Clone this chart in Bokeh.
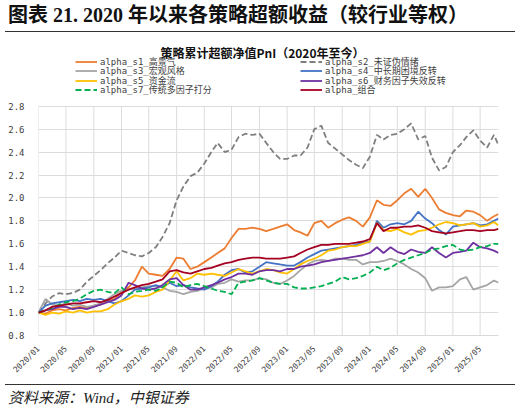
import pandas as pd
from math import pi

from bokeh.embed import file_html
from bokeh.layouts import column
from bokeh.models import (DatetimeTickFormatter, Div, FixedTicker, Label, Legend, LegendItem,
                          PrintfTickFormatter, Range1d)
from bokeh.plotting import figure
from bokeh.resources import INLINE

# month starts 2020/01 .. 2025/07, last point is the end of the series
dates = list(pd.date_range("2020-01-01", periods=67, freq="MS")) + [pd.Timestamp("2025-07-21")]
tick_dates = list(pd.date_range("2020-01-01", "2025-05-01", freq="4MS"))
y_ticks = [0.8, 1.0, 1.2, 1.4, 1.6, 1.8, 2.0, 2.2, 2.4, 2.6, 2.8]

s1 = [1.00, 0.99, 1.02, 1.03, 1.02, 1.04, 1.05, 1.04, 1.06, 1.07, 1.10, 1.12, 1.18, 1.22,
      1.28, 1.40, 1.34, 1.33, 1.32, 1.38, 1.48, 1.47, 1.38, 1.40, 1.44, 1.48, 1.52, 1.56,
      1.65, 1.73, 1.73, 1.74, 1.73, 1.71, 1.73, 1.75, 1.77, 1.72, 1.70, 1.67, 1.78, 1.80,
      1.74, 1.78, 1.81, 1.83, 1.80, 1.75, 1.83, 1.98, 1.94, 1.93, 1.98, 2.04, 2.08, 2.01,
      2.08, 2.00, 1.90, 1.87, 1.85, 1.84, 1.89, 1.88, 1.85, 1.80, 1.84, 1.86]
s2 = [1.00, 1.08, 1.14, 1.17, 1.16, 1.17, 1.20, 1.27, 1.32, 1.37, 1.43, 1.48, 1.54, 1.52,
      1.50, 1.49, 1.52, 1.57, 1.66, 1.78, 1.98, 2.10, 2.19, 2.22, 2.30, 2.40, 2.48, 2.40,
      2.42, 2.53, 2.56, 2.55, 2.56, 2.48, 2.40, 2.34, 2.34, 2.37, 2.37, 2.44, 2.60, 2.63,
      2.48, 2.43, 2.38, 2.33, 2.29, 2.26, 2.36, 2.55, 2.51, 2.55, 2.56, 2.60, 2.65, 2.51,
      2.54, 2.35, 2.24, 2.27, 2.40, 2.46, 2.53, 2.59, 2.50, 2.44, 2.55, 2.46]
s3 = [1.00, 1.12, 1.07, 1.06, 1.08, 1.06, 1.07, 1.05, 1.06, 1.08, 1.12, 1.16, 1.19, 1.20,
      1.21, 1.22, 1.23, 1.23, 1.22, 1.19, 1.18, 1.16, 1.18, 1.19, 1.21, 1.22, 1.25, 1.26,
      1.29, 1.27, 1.28, 1.28, 1.30, 1.29, 1.26, 1.25, 1.28, 1.32, 1.37, 1.42, 1.45, 1.46,
      1.45, 1.47, 1.47, 1.46, 1.46, 1.42, 1.44, 1.44, 1.45, 1.47, 1.45, 1.42, 1.38, 1.35,
      1.30, 1.19, 1.22, 1.22, 1.23, 1.29, 1.31, 1.20, 1.22, 1.24, 1.28, 1.26]
s4 = [1.00, 1.06, 1.08, 1.09, 1.10, 1.11, 1.10, 1.12, 1.11, 1.12, 1.10, 1.08, 1.10, 1.15,
      1.20, 1.21, 1.22, 1.24, 1.22, 1.26, 1.23, 1.24, 1.22, 1.21, 1.20, 1.23, 1.27, 1.33,
      1.37, 1.38, 1.35, 1.36, 1.40, 1.44, 1.43, 1.42, 1.41, 1.41, 1.44, 1.48, 1.51, 1.54,
      1.55, 1.56, 1.57, 1.58, 1.59, 1.61, 1.62, 1.80, 1.74, 1.77, 1.78, 1.77, 1.80, 1.88,
      1.82, 1.78, 1.72, 1.68, 1.75, 1.76, 1.77, 1.78, 1.76, 1.77, 1.80, 1.82]
s5 = [1.00, 0.98, 1.00, 0.99, 1.01, 1.00, 1.02, 1.00, 1.01, 1.01, 1.03, 1.07, 1.10, 1.12,
      1.15, 1.14, 1.15, 1.18, 1.20, 1.28, 1.36, 1.28, 1.30, 1.34, 1.33, 1.34, 1.33, 1.32,
      1.35, 1.38, 1.36, 1.34, 1.36, 1.38, 1.37, 1.35, 1.34, 1.38, 1.42, 1.45, 1.47, 1.50,
      1.54, 1.55, 1.57, 1.58, 1.58, 1.60, 1.62, 1.78, 1.72, 1.71, 1.73, 1.70, 1.68, 1.71,
      1.72, 1.74, 1.77, 1.79, 1.78, 1.76, 1.77, 1.78, 1.75, 1.76, 1.79, 1.76]
s6 = [1.00, 1.02, 1.03, 1.05, 1.05, 1.03, 1.04, 1.03, 1.05, 1.07, 1.09, 1.11, 1.15, 1.26,
      1.24, 1.21, 1.20, 1.21, 1.24, 1.29, 1.30, 1.24, 1.20, 1.20, 1.22, 1.24, 1.26, 1.29,
      1.31, 1.34, 1.34, 1.33, 1.36, 1.37, 1.37, 1.36, 1.38, 1.38, 1.40, 1.41, 1.42, 1.44,
      1.45, 1.46, 1.47, 1.48, 1.49, 1.50, 1.52, 1.57, 1.52, 1.57, 1.53, 1.51, 1.55, 1.53,
      1.52, 1.57, 1.52, 1.48, 1.52, 1.53, 1.54, 1.61, 1.57, 1.56, 1.54, 1.52]
s7 = [1.00, 1.02, 1.04, 1.07, 1.09, 1.10, 1.12, 1.16, 1.19, 1.20, 1.18, 1.17, 1.22, 1.16,
      1.18, 1.19, 1.20, 1.19, 1.22, 1.27, 1.26, 1.22, 1.24, 1.25, 1.23, 1.21, 1.19, 1.18,
      1.16, 1.26, 1.27, 1.28, 1.30, 1.28, 1.26, 1.25, 1.25, 1.22, 1.21, 1.21, 1.22, 1.23,
      1.25, 1.27, 1.31, 1.29, 1.30, 1.32, 1.35, 1.40, 1.37, 1.39, 1.43, 1.46, 1.48, 1.50,
      1.52, 1.55, 1.56, 1.58, 1.59, 1.55, 1.54, 1.55, 1.57, 1.58, 1.60, 1.60]
combo = [1.00, 1.02, 1.05, 1.06, 1.07, 1.08, 1.08, 1.09, 1.10, 1.09, 1.11, 1.14, 1.17, 1.20,
         1.22, 1.24, 1.25, 1.27, 1.29, 1.36, 1.37, 1.35, 1.34, 1.36, 1.38, 1.39, 1.41, 1.43,
         1.44, 1.46, 1.47, 1.48, 1.48, 1.47, 1.47, 1.47, 1.48, 1.49, 1.52, 1.55, 1.57, 1.59,
         1.59, 1.60, 1.60, 1.60, 1.61, 1.62, 1.64, 1.78, 1.71, 1.74, 1.74, 1.75, 1.75, 1.76,
         1.74, 1.71, 1.70, 1.69, 1.70, 1.71, 1.72, 1.72, 1.71, 1.72, 1.72, 1.73]

names = ["alpha_s1_高景气", "alpha_s2_未证伪情绪", "alpha_s3_宏观风格", "alpha_s4_中长期困境反转",
         "alpha_s5_资金流", "alpha_s6_财务因子失效反转", "alpha_s7_传统多因子打分", "alpha_组合"]
series = [s1, s2, s3, s4, s5, s6, s7, combo]
colors = ["#ED7D31", "#7F7F7F", "#A5A5A5", "#4472C4", "#FFC000", "#7030A0", "#00B050", "#A50021"]
dashes = ["solid", "6 3", "solid", "solid", "solid", "solid", "6 3", "solid"]

MONO = "'DejaVu Sans Mono', 'Noto Sans CJK SC'"

title_div = Div(
    text="<div style=\"margin-left:5px;width:510px;height:32px;box-sizing:border-box;"
         "padding:3px 0 0 3px;border-bottom:1.5px solid #333;color:#111;"
         "font:bold 20px 'Liberation Serif','Noto Sans CJK SC';line-height:24px;\">"
         "图表 21. 2020 年以来各策略超额收益（较行业等权）</div>",
    width=521, height=32, margin=(0, 0, 0, 0))

src_div = Div(
    text="<div style=\"margin-left:5px;width:510px;height:26px;box-sizing:border-box;"
         "padding:3px 0 0 3px;border-top:1.5px solid #333;color:#222;"
         "font:italic 15px 'Liberation Serif','Noto Sans CJK SC';line-height:20px;\">"
         "资料来源：Wind，中银证券</div>",
    width=521, height=26, margin=(0, 0, 0, 0))

# the frame runs from the figure top down to the x axis; the space above 2.8
# holds the subtitle and the legend (annotations are clipped to the frame)
p = figure(width=521, height=352, x_axis_type="datetime", output_backend="svg",
           toolbar_location=None, x_range=Range1d(dates[0], dates[-1]),
           y_range=Range1d(0.8, 3.443), min_border_left=38, min_border_right=23,
           min_border_top=0, min_border_bottom=49, margin=(0, 0, 0, 0))
p.outline_line_color = None
p.background_fill_color = "white"
p.border_fill_color = "white"

# vertical grid lines only over the value band 0.8 .. 2.8
p.segment(x0=tick_dates, y0=[y_ticks[0]] * len(tick_dates), x1=tick_dates,
          y1=[y_ticks[-1]] * len(tick_dates), color="#DCDCDC", line_width=1)

renderers = []
for ys, c, d in zip(series, colors, dashes):
    renderers.append(p.line(dates, ys, color=c, line_width=1.8, line_dash=d))

# one small legend per entry, two columns of four rows (screen px from the
# frame's bottom-left corner)
col_x = [37, 262]
row_y = [266.8, 257.6, 248.4, 239.2]
for i, (name, r) in enumerate(zip(names, renderers)):
    lg = Legend(items=[LegendItem(label=name, renderers=[r])],
                location=(col_x[i % 2], row_y[i // 2]), background_fill_alpha=0,
                border_line_color=None, padding=0, margin=0, spacing=0,
                glyph_width=22, glyph_height=9, label_height=9, label_standoff=3,
                label_text_font=MONO, label_text_font_size="9px",
                label_text_color="#404040")
    p.add_layout(lg, "center")

p.add_layout(Label(x=224, y=283.5, x_units="screen", y_units="screen",
                   text="策略累计超额净值PnI（2020年至今）", text_font="Noto Sans CJK SC",
                   text_font_size="12px", text_font_style="bold", text_align="center",
                   text_baseline="middle", text_color="#111111"))

p.xaxis.ticker = FixedTicker(ticks=[d.timestamp() * 1000 for d in tick_dates])
p.xaxis.formatter = DatetimeTickFormatter(months="%Y/%m", days="%Y/%m", years="%Y/%m")
p.xaxis.major_label_orientation = pi / 4
p.yaxis.ticker = FixedTicker(ticks=y_ticks)
p.yaxis.formatter = PrintfTickFormatter(format="%.1f")
for ax in (p.xaxis, p.yaxis):
    ax.major_tick_line_color = None
    ax.minor_tick_line_color = None
    ax.major_label_text_font = MONO
    ax.major_label_text_color = "#404040"
p.xaxis.major_label_text_font_size = "8px"
p.yaxis.major_label_text_font_size = "9px"
p.xaxis.axis_line_color = "#D9D9D9"
p.yaxis.axis_line_color = None
p.xaxis.major_label_standoff = 6
p.yaxis.major_label_standoff = 8
p.xgrid.grid_line_color = None
p.ygrid.grid_line_color = "#DCDCDC"
p.ygrid.grid_line_width = 1

page = column(title_div, p, src_div, spacing=0)
open("out.html", "w").write(file_html(page, INLINE))
